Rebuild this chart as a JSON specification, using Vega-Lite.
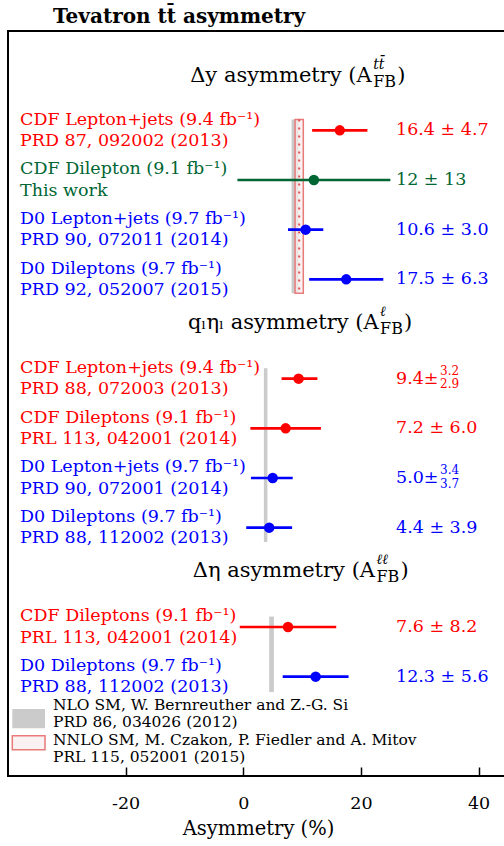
{
  "$schema": "https://vega.github.io/schema/vega-lite/v6.json",
  "width": 500,
  "height": 745,
  "autosize": {"type": "none"},
  "padding": {"left": 8, "top": 31, "right": 0, "bottom": 70},
  "background": "white",
  "title": {"text": "Tevatron tt̄ asymmetry", "anchor": "start", "dx": 45, "font": "DejaVu Serif", "fontSize": 20, "fontWeight": "bold", "color": "black", "offset": 4},
  "config": {"view": {"stroke": "black", "strokeWidth": 2}},
  "datasets": {
    "bands": [
      {"type": "NLO", "x1": 8.2, "x2": 9.4, "r1": 1.78, "r2": 5.28},
      {"type": "NNLO", "x1": 8.8, "x2": 10.2, "xm": 9.5, "r1": 1.78, "r2": 5.28},
      {"type": "NLO", "x1": 3.5, "x2": 4.1, "r1": 6.79, "r2": 10.29},
      {"type": "NLO", "x1": 4.4, "x2": 5.2, "r1": 11.79, "r2": 13.31},
      {"type": "NLO", "x1": -39.27, "x2": -33.71, "r1": 13.65, "r2": 14.04},
      {"type": "NNLO", "x1": -39.27, "x2": -33.71, "r1": 14.19, "r2": 14.47}
    ],
    "meas": [
      {"row": 2, "grp": "CDF", "value": 16.4, "lo": 11.7, "hi": 21.1, "val": "16.4 ± 4.7", "label": "CDF Lepton+jets (9.4 fb⁻¹)|PRD 87, 092002 (2013)"},
      {"row": 3, "grp": "This work", "value": 12, "lo": -1, "hi": 25, "val": "12 ± 13", "label": "CDF Dilepton (9.1 fb⁻¹)|This work"},
      {"row": 4, "grp": "D0", "value": 10.6, "lo": 7.6, "hi": 13.6, "val": "10.6 ± 3.0", "label": "D0 Lepton+jets (9.7 fb⁻¹)|PRD 90, 072011 (2014)"},
      {"row": 5, "grp": "D0", "value": 17.5, "lo": 11.2, "hi": 23.8, "val": "17.5 ± 6.3", "label": "D0 Dileptons (9.7 fb⁻¹)|PRD 92, 052007 (2015)"},
      {"row": 7, "grp": "CDF", "value": 9.4, "lo": 6.5, "hi": 12.6, "val": "9.4±", "sup": "3.2", "sub": "2.9", "label": "CDF Lepton+jets (9.4 fb⁻¹)|PRD 88, 072003 (2013)"},
      {"row": 8, "grp": "CDF", "value": 7.2, "lo": 1.2, "hi": 13.2, "val": "7.2 ± 6.0", "label": "CDF Dileptons (9.1 fb⁻¹)|PRL 113, 042001 (2014)"},
      {"row": 9, "grp": "D0", "value": 5.0, "lo": 1.3, "hi": 8.4, "val": "5.0±", "sup": "3.4", "sub": "3.7", "label": "D0 Lepton+jets (9.7 fb⁻¹)|PRD 90, 072001 (2014)"},
      {"row": 10, "grp": "D0", "value": 4.4, "lo": 0.5, "hi": 8.3, "val": "4.4 ± 3.9", "label": "D0 Dileptons (9.7 fb⁻¹)|PRD 88, 112002 (2013)"},
      {"row": 12, "grp": "CDF", "value": 7.6, "lo": -0.6, "hi": 15.8, "val": "7.6 ± 8.2", "label": "CDF Dileptons (9.1 fb⁻¹)|PRL 113, 042001 (2014)"},
      {"row": 13, "grp": "D0", "value": 12.3, "lo": 6.7, "hi": 17.9, "val": "12.3 ± 5.6", "label": "D0 Dileptons (9.7 fb⁻¹)|PRD 88, 112002 (2013)"}
    ],
    "headers": [
      {"r": 0.9, "xa": 21.83, "main": "Δy asymmetry (A", "sup": "tt̄", "sub": "FB"},
      {"r": 5.88, "xa": 23.0, "main": "qₗηₗ asymmetry (A", "sup": "ℓ", "sub": "FB"},
      {"r": 10.88, "xa": 22.39, "main": "Δη asymmetry (A", "sup": "ℓℓ", "sub": "FB"}
    ],
    "legend": [
      {"r": 13.745, "t": "NLO SM, W. Bernreuther and Z.-G. Si|PRD 86, 034026 (2012)"},
      {"r": 14.45, "t": "NNLO SM, M. Czakon, P. Fiedler and A. Mitov|PRL 115, 052001 (2015)"}
    ]
  },
  "layer": [
    {
      "data": {"name": "bands"},
      "transform": [{"filter": "datum.type == 'NLO'"}],
      "mark": {"type": "rect", "fill": "#cbcbcb"},
      "encoding": {
        "x": {"field": "x1", "type": "quantitative", "scale": {"domain": [-40, 45], "nice": false, "zero": false},
          "axis": {"values": [-20, 0, 20, 40], "labelExpr": "toString(datum.value)", "domain": false, "grid": false,
            "tickSize": -9, "tickWidth": 1.5, "tickColor": "black", "labelPadding": 27,
            "labelFont": "DejaVu Serif", "labelFontSize": 17.5, "labelColor": "black",
            "title": "Asymmetry (%)", "titleFont": "DejaVu Serif", "titleFontSize": 19.5, "titleFontWeight": "normal", "titleColor": "black", "titlePadding": 8}},
        "x2": {"field": "x2"},
        "y": {"field": "r1", "type": "quantitative", "scale": {"domain": [0, 15], "reverse": true, "nice": false, "zero": false}, "axis": null},
        "y2": {"field": "r2"}
      }
    },
    {
      "data": {"name": "bands"},
      "transform": [{"filter": "datum.type == 'NNLO'"}],
      "mark": {"type": "rect", "fill": "#f8eeee", "fillOpacity": 0.75, "stroke": "#e87a7a", "strokeWidth": 1.5},
      "encoding": {
        "x": {"field": "x1", "type": "quantitative"},
        "x2": {"field": "x2"},
        "y": {"field": "r1", "type": "quantitative"},
        "y2": {"field": "r2"}
      }
    },
    {
      "data": {"name": "bands"},
      "transform": [{"filter": "datum.xm != null"}],
      "mark": {"type": "rule", "color": "#e05050", "strokeWidth": 2, "strokeDash": [2, 6]},
      "encoding": {
        "x": {"field": "xm", "type": "quantitative"},
        "y": {"field": "r1", "type": "quantitative"},
        "y2": {"field": "r2"}
      }
    },
    {
      "data": {"name": "meas"},
      "mark": {"type": "rule", "strokeWidth": 2.6},
      "encoding": {
        "x": {"field": "lo", "type": "quantitative"},
        "x2": {"field": "hi"},
        "y": {"field": "row", "type": "quantitative"},
        "color": {"field": "grp", "type": "nominal", "scale": {"domain": ["CDF", "This work", "D0"], "range": ["#ff0000", "#006633", "#0000ff"]}, "legend": null}
      }
    },
    {
      "data": {"name": "meas"},
      "mark": {"type": "point", "filled": true, "size": 110, "opacity": 1},
      "encoding": {
        "x": {"field": "value", "type": "quantitative"},
        "y": {"field": "row", "type": "quantitative"},
        "color": {"field": "grp", "type": "nominal", "legend": null}
      }
    },
    {
      "data": {"name": "meas"},
      "mark": {"type": "text", "align": "left", "baseline": "middle", "lineBreak": "|", "lineHeight": 21.5, "dy": -10.75, "font": "DejaVu Serif", "fontSize": 17.5},
      "encoding": {
        "x": {"datum": -37.96, "type": "quantitative"},
        "y": {"field": "row", "type": "quantitative"},
        "text": {"field": "label"},
        "color": {"field": "grp", "type": "nominal", "legend": null}
      }
    },
    {
      "data": {"name": "meas"},
      "mark": {"type": "text", "align": "left", "baseline": "middle", "font": "DejaVu Serif", "fontSize": 17.5},
      "encoding": {
        "x": {"datum": 25.96, "type": "quantitative"},
        "y": {"field": "row", "type": "quantitative"},
        "text": {"field": "val"},
        "color": {"field": "grp", "type": "nominal", "legend": null}
      }
    },
    {
      "data": {"name": "meas"},
      "transform": [{"filter": "datum.sup != null"}],
      "mark": {"type": "text", "align": "left", "baseline": "middle", "font": "DejaVu Serif", "fontSize": 12, "dx": 44, "dy": -8},
      "encoding": {
        "x": {"datum": 25.96, "type": "quantitative"},
        "y": {"field": "row", "type": "quantitative"},
        "text": {"field": "sup"},
        "color": {"field": "grp", "type": "nominal", "legend": null}
      }
    },
    {
      "data": {"name": "meas"},
      "transform": [{"filter": "datum.sub != null"}],
      "mark": {"type": "text", "align": "left", "baseline": "middle", "font": "DejaVu Serif", "fontSize": 12, "dx": 44, "dy": 5.5},
      "encoding": {
        "x": {"datum": 25.96, "type": "quantitative"},
        "y": {"field": "row", "type": "quantitative"},
        "text": {"field": "sub"},
        "color": {"field": "grp", "type": "nominal", "legend": null}
      }
    },
    {
      "data": {"name": "headers"},
      "mark": {"type": "text", "align": "right", "baseline": "middle", "font": "DejaVu Serif", "fontSize": 21, "color": "black"},
      "encoding": {
        "x": {"field": "xa", "type": "quantitative"},
        "y": {"field": "r", "type": "quantitative"},
        "text": {"field": "main"}
      }
    },
    {
      "data": {"name": "headers"},
      "mark": {"type": "text", "align": "left", "baseline": "middle", "font": "DejaVu Serif", "fontSize": 14, "fontStyle": "italic", "color": "black", "dx": 1.5, "dy": -11},
      "encoding": {
        "x": {"field": "xa", "type": "quantitative"},
        "y": {"field": "r", "type": "quantitative"},
        "text": {"field": "sup"}
      }
    },
    {
      "data": {"name": "headers"},
      "mark": {"type": "text", "align": "left", "baseline": "middle", "font": "DejaVu Serif", "fontSize": 16, "color": "black", "dx": 1.5, "dy": 6},
      "encoding": {
        "x": {"field": "xa", "type": "quantitative"},
        "y": {"field": "r", "type": "quantitative"},
        "text": {"field": "sub"}
      }
    },
    {
      "data": {"name": "headers"},
      "mark": {"type": "text", "align": "left", "baseline": "middle", "font": "DejaVu Serif", "fontSize": 21, "color": "black", "dx": 25.5},
      "encoding": {
        "x": {"field": "xa", "type": "quantitative"},
        "y": {"field": "r", "type": "quantitative"},
        "text": {"value": ")"}
      }
    },
    {
      "data": {"name": "legend"},
      "mark": {"type": "text", "align": "left", "baseline": "middle", "lineBreak": "|", "lineHeight": 16.8, "dy": -8.4, "font": "DejaVu Serif", "fontSize": 15.5, "color": "black"},
      "encoding": {
        "x": {"datum": -32.35, "type": "quantitative"},
        "y": {"field": "r", "type": "quantitative"},
        "text": {"field": "t"}
      }
    }
  ]
}
